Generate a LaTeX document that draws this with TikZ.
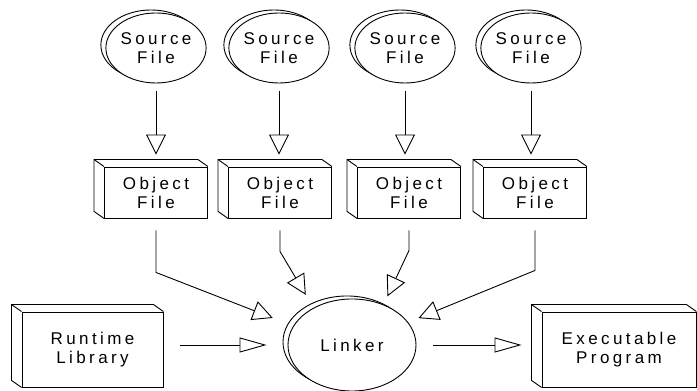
\documentclass[tikz,border=0pt]{standalone}
\usepackage{fontspec}
\newfontfamily\labelfont[LetterSpace=20]{Liberation Sans}
\usetikzlibrary{arrows.meta,shapes.geometric}
\def\s{0.03514}
\def\px#1#2{({(#1)*\s},{(391-(#2))*\s})}
\tikzset{
  srcfile/.style={ellipse, draw, fill=white, inner sep=0pt, align=center,
    minimum width=98pt, minimum height=70pt,
    preaction={draw, transform canvas={shift={(-5pt,3pt)}}}},
  objfile/.style={rectangle, draw, fill=white, align=center,
    minimum width=103pt, minimum height=51pt},
  flow/.style={-{Triangle[open,length=20pt,width=20pt]}},
  flowh/.style={-{Triangle[open,length=27pt,width=15pt]}}
}

\begin{document}
\begin{tikzpicture}[line width=0.9pt,font=\labelfont\fontsize{17}{19}\selectfont]
\useasboundingbox \px{0}{0} rectangle \px{697}{391};
\foreach \i/\x/\xo in {1/156/156,2/279/280,3/405/409,4/531/535}{
	\node[srcfile] (src\i) at \px{\x}{48} {Source\\File};
	\node[objfile] (obj\i) at \px{\xo}{192.5} {Object\\File};
}
\node[objfile,minimum width=141pt,minimum height=75pt] (runtime) at \px{92.5}{349.5} {Runtime\\Library};
\node[objfile,minimum width=154pt,minimum height=75pt] (exe) at \px{619}{349.5} {Executable\\Program};
\node[srcfile,minimum width=128pt,minimum height=92pt] (linker) at \px{352}{345} {Linker};
\foreach \b in {obj1,obj2,obj3,obj4,runtime,exe}{
	\draw (\b.north east) -- ++(-10pt,7pt) -- ([shift={(-10pt,7pt)}]\b.north west)
		-- ([shift={(-10pt,7pt)}]\b.south west) -- (\b.south west);
	\draw (\b.north west) -- ++(-10pt,7pt);
}
\foreach \i in {1,...,4}{
	\draw[flow,shorten <=8pt,shorten >=12pt] (src\i.south) -- (src\i.south |- obj\i.north);
}
\draw[flow,shorten <=12pt,shorten >=22pt] (obj1.south) -- ++(0,-54pt) -- (linker.162);
\draw[flow,shorten <=12pt,shorten >=15pt] (obj2.south) -- ++(0,-33pt) -- (linker.136);
\draw[flow,shorten <=12pt,shorten >=9pt] (obj3.south) -- ++(0,-32pt) -- (linker.52);
\draw[flow,shorten <=12pt,shorten >=11pt] (obj4.south) -- ++(0,-52pt) -- (linker.22);
\draw[flowh,shorten <=17pt,shorten >=21pt] (runtime.east |- linker.west) -- (linker.west);
\draw[flowh,shorten <=17pt,shorten >=20pt] (linker.east) -- (linker.east -| exe.west);
\end{tikzpicture}
\end{document}
